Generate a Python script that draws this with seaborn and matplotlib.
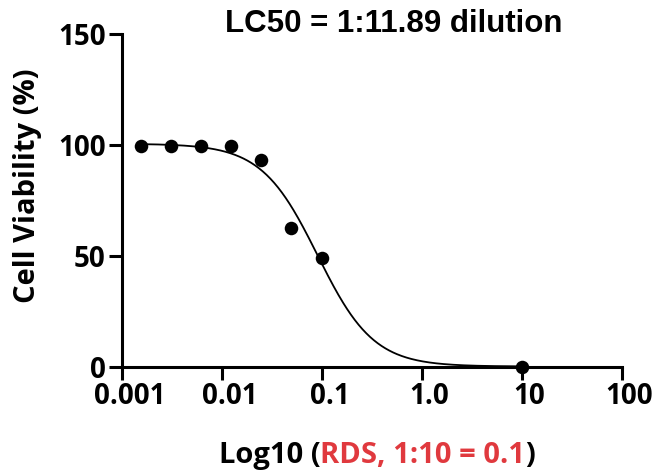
import numpy as np
import pandas as pd
import matplotlib
matplotlib.use("Agg")
import matplotlib.pyplot as plt
import matplotlib.transforms as mtransforms
import seaborn as sns

# ---- data ----
dilution = [0.0015625, 0.003125, 0.00625, 0.0125, 0.025, 0.05, 0.1, 10.0]
viability = [99.6, 99.4, 99.4, 99.3, 93.0, 62.3, 48.8, 0.0]

# fitted sigmoid parameters
fit_top = 100.5
fit_bottom = 0.0
fit_log_lc50 = -1.04
fit_hill = 1.55

x_ticks = [0.001, 0.01, 0.1, 1.0, 10, 100]
x_tick_labels = ["0.001", "0.01", "0.1", "1.0", "10", "100"]
y_ticks = [0, 50, 100, 150]

title = "LC50 = 1:11.89 dilution"
ylabel = "Cell Viability (%)"
xlabel_pieces = ["Log10 (", "RDS, 1:10 = 0.1", ")"]
xlabel_colors = ["black", "#E0393E", "black"]

sns.set_theme(style="ticks")
plt.rcParams['font.family'] = ['Open Sans', 'DejaVu Sans']
plt.rcParams['text.color'] = 'black'
plt.rcParams['axes.labelcolor'] = 'black'
plt.rcParams['xtick.color'] = 'black'
plt.rcParams['ytick.color'] = 'black'

fig = plt.figure(figsize=(6.52, 4.73), dpi=100)
ax = fig.add_axes([121.5/652, 1-366.5/473, 500/652, 332.5/473])

df = pd.DataFrame({"x": dilution, "y": viability})

xs = np.logspace(np.log10(0.0015), np.log10(10), 400)
ys = fit_bottom + (fit_top - fit_bottom) / (1 + 10 ** ((np.log10(xs) - fit_log_lc50) * fit_hill))
curve = pd.DataFrame({"x": xs, "y": ys})
sns.lineplot(data=curve, x="x", y="y", ax=ax, color="black", linewidth=1.3, clip_on=False)
sns.scatterplot(data=df, x="x", y="y", ax=ax, color="black", s=95, edgecolor="black",
                linewidth=0, clip_on=False, zorder=5)

ax.set_xscale("log")
ax.set_xlim(0.001, 100)
ax.set_ylim(0, 150)
ax.set_xticks(x_ticks)
ax.set_xticklabels(x_tick_labels)
ax.minorticks_off()
ax.set_yticks(y_ticks)
ax.set_xlabel("")
ax.set_ylabel("")
for s in ["top", "right"]:
    ax.spines[s].set_visible(False)
for s in ["left", "bottom"]:
    ax.spines[s].set_linewidth(2.2)
    ax.spines[s].set_color("black")
    ax.spines[s].set_capstyle("projecting")
ax.tick_params(axis="both", length=9.5, width=2.2, color="black", labelsize=20, pad=2)
for lab in ax.get_xticklabels() + ax.get_yticklabels():
    lab.set_fontweight("bold")
offset = mtransforms.ScaledTranslation(8/100, 0, fig.dpi_scale_trans)
for lab in ax.get_xticklabels():
    lab.set_transform(lab.get_transform() + offset)

fig.text(28/652, 1-186/473, ylabel, rotation=90, ha="center", va="center",
         fontsize=21, fontweight="bold")

fig.text(394/652, 1-24/473, title, ha="center", va="center", fontsize=22.5,
         fontweight="bold", family=["Liberation Sans", "DejaVu Sans"])

# x label with mixed colours
fig.canvas.draw()
renderer = fig.canvas.get_renderer()
texts = []
for s, c in zip(xlabel_pieces, xlabel_colors):
    t = fig.text(0, 1-455/473, s, color=c, fontsize=21, fontweight="bold", va="center", ha="left")
    texts.append(t)
widths = [t.get_window_extent(renderer).width for t in texts]
total = sum(widths)
x0 = 377 - total / 2
for t, w in zip(texts, widths):
    t.set_x(x0 / 652)
    x0 += w

fig.savefig("out.png", dpi=100)
